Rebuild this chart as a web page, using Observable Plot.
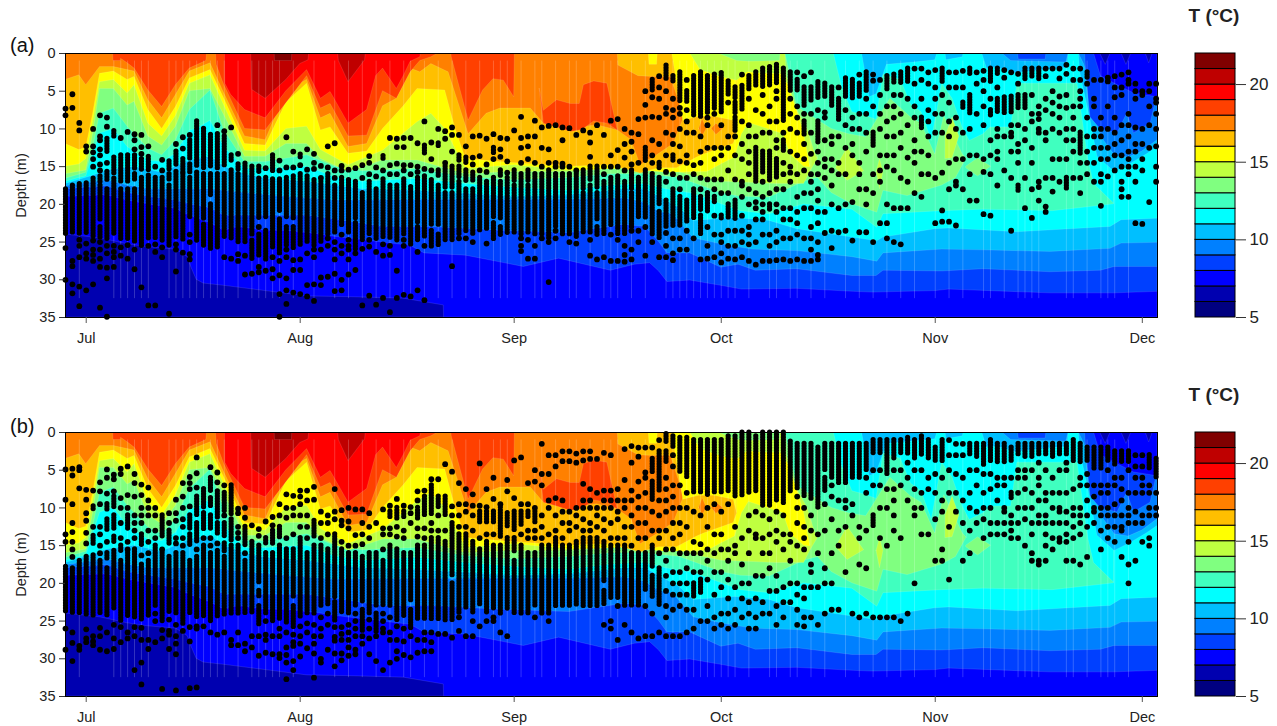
<!DOCTYPE html>
<html><head><meta charset="utf-8">
<script src="https://cdn.jsdelivr.net/npm/d3@7"></script>
<script src="https://cdn.jsdelivr.net/npm/@observablehq/plot@0.6"></script>
<style>
html,body{margin:0;padding:0;background:#fff;font-family:"Liberation Sans",Arial,sans-serif}
#page{position:relative;width:1277px;height:726px;overflow:hidden}
#page svg{position:absolute;background:transparent;overflow:visible}
.lab{position:absolute;font-size:20px;color:#111;line-height:20px}
.tt{position:absolute;font-size:19px;font-weight:bold;color:#222;line-height:18px;width:100px;text-align:center}
</style></head><body><div id="page">
<div class="lab" style="left:10px;top:35px">(a)</div>
<div class="lab" style="left:10px;top:416px">(b)</div>
<div class="tt" style="left:1164px;top:7px">T (°C)</div>
<div class="tt" style="left:1164px;top:386px">T (°C)</div>
</div>
<script>
const bandColors=["#000080","#0000B0","#0000FF","#0040FF","#0080FF","#00BFFF","#00FFFF","#40FFBF","#80FF80","#BFFF40","#FFFF00","#FFBF00","#FF8000","#FF4000","#FF0000","#BF0000","#800000"];
const legendBands=[5,6,7,8,9,10,11,12,13,14,15,16,17,18,19,20,21];
const months=[0,31,62,92,123,153];
const depthTicks=[0,5,10,15,20,25,30,35];
const legendTicks=[5,10,15,20];

// isotherm depth (m) per day after 1 Jul: [day, depth]; band T..T+1 lies above isoT
const iso6=[[-3,35],[155.2,35]];
const iso7=[[-3,24],[2,24.5],[6,25.3],[9,25.7],[13,26],[14.7,27],[15.3,28.5],[16,30],[17,30.5],[20,30.8],[26,31.5],[32,32.2],[38,32.3],[46,32.5],[51.8,33.4],[51.85,35],[155.2,35]];
const iso8=[[-3,19],[3,18.8],[6,19.5],[9,20],[13,20.6],[15,21.5],[18,22.5],[20,23.5],[22,23],[26,23.5],[29,23.5],[34,24],[36,24.3],[47,25.5],[49,26.5],[55,26.8],[63.4,28.3],[68.5,27.2],[76,28.8],[79.5,28],[81.7,27.8],[83,28.9],[84.2,30.3],[87.5,30.1],[92,30.8],[95,31.3],[103,31.2],[111.2,31.6],[114,31.7],[123,31.5],[125,31.3],[139.7,31.8],[149,31.8],[155.2,31.6]];
const iso9=[[-3,18],[3,17.6],[6,18.5],[9,19],[13,19.5],[15,20],[18,20.5],[20,21.5],[32,21.5],[36,22],[43,23],[50,23],[60,23.5],[70,23.8],[78,22.7],[81,23],[83,25],[84.2,26.5],[87.5,26.5],[92,28.4],[94.5,28],[97,28.8],[103,28.6],[111,29.5],[114.5,29.5],[115.5,28.8],[124,28.9],[130,28.6],[139.7,29],[147,28.8],[149,28.3],[155.2,28.3]];
const iso10=[[-3,17.6],[3,16.8],[6,17.5],[9,18],[18,18],[23,18.5],[29,19],[36,19.5],[50,19.4],[70,19.4],[78,19.2],[81,19.8],[83,21],[85,21.3],[88,24.5],[92,25.3],[96.5,26],[103,26.2],[111,27],[114.6,27.6],[115.5,26.5],[124,26],[130,26.1],[139.7,26.3],[148.4,25.9],[150,25.2],[155.2,25.1]];
const iso11=[[-3,17.3],[1,16.2],[3,15.5],[7,15],[11,15.8],[15,14.2],[18,13.7],[20,15],[23,16],[26,16.6],[32,17],[40,18],[48,18.2],[55,18.6],[62,19],[70,18.8],[78,18],[81,18],[83,19],[86,20.5],[88,22.2],[94,21.8],[99,22.2],[103,23.3],[111,24.4],[114.6,24.9],[115.5,24.4],[123,23.3],[125,23.2],[134.9,23.7],[148.4,23],[150,22.1],[155.2,21.9]];
const iso12=[[-3,17],[-1,16.5],[0,16.3],[1,13.5],[2,10.6],[4,10],[6,12.4],[9,14.2],[11,14.4],[13,13.3],[15,10.2],[16,10],[18,8.9],[20,12.4],[23,15.3],[26,15.3],[32,15],[36,16.4],[40,17],[48,16.6],[55,17.3],[62,17.8],[70,18.2],[76,17.5],[81,17.3],[84,18],[88,18.6],[94.8,20.9],[99,21.3],[104,20],[111,20.7],[114.6,23.1],[115.5,21.3],[124,20.9],[130,20.7],[140,20.9],[148.9,20],[149,0],[155.2,0]];
const iso13=[[-3,16.6],[0,15.8],[1,12.5],[2,8],[4,7.3],[6,9.7],[9,12.6],[11,13.5],[13,11.5],[15,7.5],[18,4.9],[20,10.2],[23,14.4],[26,14.4],[32,13.5],[36,15],[40,15.6],[48,15.3],[55,16.4],[62,16.8],[70,16.5],[76,16],[81,16],[86,16.5],[92,18.5],[94.8,19],[99,19.1],[104,17],[106,16.5],[108,18.5],[111,20],[114.6,21.1],[115.5,18.2],[119,18.9],[124,17.5],[126,16.5],[127.5,14],[127.6,0],[155.2,0]];
const iso14=[[-3,16],[0,15.5],[1,10.6],[2,4.7],[4,4.7],[6,6.9],[7,6.4],[9,11],[11,12.2],[13,9.7],[15,5],[18,4.7],[20,8.2],[23,13.7],[26,13.7],[29,12],[32,12],[34,14],[38,15.7],[43,14.2],[48,14.2],[55,16],[62,15.7],[70,15.7],[78,15.2],[86,15.8],[92,17],[100,17.3],[104,17.3],[105,15.5],[106,14],[106.1,0],[155.2,0]];
const iso15=[[-3,15],[-1,14.7],[0,14],[1,9],[2,3.8],[4,3.5],[6,5.3],[7,4.2],[9,9.3],[11,11],[13,8.3],[15,4],[18,2.9],[20,6.9],[23,12.9],[26,13],[29,10],[32,9.7],[34,12.8],[38,14.8],[43,12.9],[48,9.1],[50,8],[52,10],[55,15.3],[62,14.8],[70,15.5],[78,15.3],[84,15.8],[90,15.7],[92,14.7],[94,13.8],[95,10.7],[96,9.2],[101,10.7],[102,13.4],[104,15],[104.9,15.1],[104.95,0],[155.2,0]];
const iso16=[[-3,12],[-1,12.8],[0,12.5],[1,8],[2,2.7],[4,2.4],[6,3.5],[7,3.1],[9,7.5],[11,10],[13,7.1],[15,3.3],[18,2.2],[20,6],[23,12],[26,12.2],[29,6.5],[32,4],[34,10.2],[35.4,9.8],[38,13.3],[40.7,13],[43,10],[46,7],[48,4.7],[52,4.9],[53.5,10],[55,14],[60,14.4],[70,15],[76,14.8],[80.3,15.9],[83,15.2],[85.6,15.2],[88.5,13.8],[89.5,13.4],[93.8,12],[94.3,10.7],[94.4,0],[155.2,0]];
const iso17=[[-3,3.5],[-1,2.9],[0,4.2],[1,3],[2,1.8],[4,1.8],[6,2.2],[7,2.4],[9,6.2],[11,8.6],[13,5.5],[15,2.4],[18,1.3],[20,5.3],[23,11],[26,11.5],[29,5],[32,3.5],[34,8.6],[35.4,8],[38,12.4],[40.7,12],[43,7],[45,6],[47,2],[48.4,2.5],[50,1.4],[52.5,2.5],[55.4,10.7],[58,8],[60,7.3],[64.4,7.3],[66.3,9.3],[70,10],[74,9.5],[77,10.2],[79,11.5],[80.3,14.8],[82.7,13.5],[85.1,12],[86.6,8.5],[86.7,0],[155.2,0]];
const iso18=[[-3,0],[3.9,0],[3.95,1],[5,1],[5.05,0.7],[6,1.3],[7,2],[9,4.9],[11,7.1],[13,4.2],[15,2],[17.4,1],[17.5,0],[18.8,0],[18.9,1.5],[20,4.2],[23,10],[26,10.2],[29,6.6],[32,3],[34,7.3],[35.4,6.7],[38,11],[40.7,10.9],[43,5],[45,6],[47,2.5],[48.4,1],[50,0.5],[51,0],[52.9,0],[52.95,0.5],[55.4,8.9],[57.5,4.9],[59,3.4],[60.5,3.6],[62,5.8],[62.1,0],[155.2,0]];
const iso19=[[20.1,0],[20.15,4],[21,5.5],[23,7.5],[26,8.6],[29,5],[32,2.2],[34,6],[35.4,5.1],[38,9.3],[40.7,7.5],[42,3],[43,2],[45,4.7],[46,3],[47,1.1],[48.4,0.5],[48.5,0]];
const iso20=[[23.9,0],[24,4.8],[26,6],[29,3.5],[31,1.4],[32.2,0.9],[32.3,0],[36.5,0],[36.6,1],[38,3.8],[40.4,0.9],[40.5,0]];
const iso21=[[27.3,0],[27.35,1],[29.8,1],[29.85,0]];

// cold layers over the warm core: capT = depth of T below the surface; colder water above it
const cap17=[[77,0],[77.1,1.6],[80,3],[82,3.1],[84.7,3.1],[85.6,5.6],[86.6,8.5],[86.65,0]];
const cap16=[[81.5,0],[81.6,1.5],[82.7,1.5],[82.8,0],[84.9,0],[85.6,4],[86.5,8.9],[88.8,8.4],[91,8.4],[93.8,8.9],[94.3,10.7],[94.31,0]];
const cap15=[[87.5,0],[89,2.2],[91.9,3.1],[94.3,3.6],[95.8,2.5],[98.7,2.7],[100.6,2.7],[101.6,4],[103,7.6],[104,10.6],[104.9,15],[104.95,0]];
const cap14=[[91.6,0],[94.3,1],[96,1.1],[100.5,1],[100.6,0],[101.3,0],[101.5,3],[103,7.5],[104.5,10],[105.5,13],[106,14],[106.05,0]];
const cap13=[[101.3,0],[103,7.1],[108,10],[110.5,10.7],[113,11.1],[116.5,6],[119.5,8.5],[121,9.3],[123,13.4],[124.3,8.3],[127,13.4],[127.6,14],[127.65,0]];
const cap12=[[108.3,0],[109.5,4.5],[111,7.8],[113,8.3],[114.5,8.8],[115.5,2.8],[118,3.5],[119.5,6.8],[121,7.8],[122.5,11.6],[124,4],[125.5,6],[127,9.9],[128,11.6],[130,10.7],[131,9.8],[134,9.8],[134.9,4],[143.6,4],[145.2,14.2],[146,17.3],[148.9,19.9],[149,0]];
const cap11=[[112.4,0],[113.5,5.8],[114.5,5.4],[116,1.5],[120,1.2],[123,0.9],[123.3,0],[124.5,0],[124.6,0.9],[127,0.5],[127.1,0],[129.8,0],[130.5,2],[132,1.9],[134.5,2.6],[142.2,1.9],[142.3,0],[143.8,0],[144,2.5],[145.5,8.9],[146.5,13.7],[149,15.7],[151.4,14.6],[153.8,13.3],[155.2,12.4]];
const cap10=[[132.7,0],[134,1],[142,1.2],[142.3,0],[143.8,0],[144.6,1.5],[146,6],[147,11],[149,13.5],[151,13.8],[153,13],[155.2,11.5]];
const cap9=[[135,0],[135.1,0.8],[139,0.8],[139.1,0],[144.7,0],[145,4],[145.5,8.5],[146.9,10],[149.4,10.6],[150.8,8],[151.8,10.6],[154.2,9.3],[155.2,5.3]];
const cap8=[[146,0],[147,3],[149,4],[151.8,5.3],[155.2,5.8]];
const cap7=[[146.9,0],[147.7,1.5],[148.4,0],[150,0],[150.7,1.5],[151.4,0],[153.5,0],[154,1.3],[154.5,0]];

// closed warm lenses: [day, top depth, bottom depth]
const lens18=[[65.7,4.7,4.7],[66.3,7.6,9.3],[68.2,6.2,9.8],[70.2,6.7,10.4],[71.5,6.7,10.2],[72.1,4.2,10],[73.6,3.7,9],[75.5,4,9.3],[77,10.2,10.2]];
const lens17a=[[88.8,10,10],[89.3,8.7,11],[89.9,10,10]];
const lens17b=[[90.6,10,10],[91.3,9.3,10.8],[92.3,10,10]];
const lens14a=[[108.6,15.2,15.2],[110.3,12.5,16.9],[112.7,15.6,15.6]];
const lens14b=[[114.5,15.7,15.7],[115,14,18],[115.5,15.7,15.7]];
const lens14c=[[124.5,11,14],[125.5,8.5,13.9],[126.5,11,11]];
const lens13=[[127.5,15,15.2],[129.2,13.9,16.3],[131.1,15,15]];

const seamDays=[-1,4,5,6,7,8,9,12,13,14,15,16,17,18,19,20,22,24,25,26,27,28,30,33,36,38,40,42,44,46,47,49,51,53,55,57,59,60,61,63,65,66,68,70,71,73,75,76,77,79,81,84,85,86,87,88,89,90,91,92,93,94,96,99,100,102,103,105,107,110,112,114,116,118,120,123,125,127,130,131,133,135,136,137,138,142,143,145,147,148,149,151];

// observation depths per day, starting at day -3; "a-b" = continuous run of depths
const divesA=[
"7.3 8.2 18-24 25.8 30","5.4 7.2 17.5-23.8 27.5 28.2 30.6 31.8","9.2 10.2 17.3-24 24.7 25.5 27 30.9 33.5","12.3 13 17.2-24 25.2 26.5 27.2 31.4","10 12.3 13.1 14 15 16.6-24.3 24.8 26 26.7 27.5 30.6","8.2 11 11.5 12.7 13.5 14.7 15.5 16.3-17 17.5-22 23-24.5 25 26 27.2 28.3 33.7","8.5 9.7 11.3-13.2 14.5 15.7-17 18-24.7 25.5 26.5 28.4 29.8 34.9","10.3-11.3 13.8-16 16.6-24 25.5 26.3 27 28.3","11.2 13.5-17 18-24.8 25.7 26.8","10.4 13.5-17 18-24.8 25.4 27.2","10.7 11.5 12.7 13.5-15.5 16-17 18-25 26 28.6","10.8 12.4 13.3 14-15.5 16.5-25.5 31","12.3 13.7-15.5 16.2-24.7 25.5 33.4","15 16.5-24.6 25.3 26.3 33.4","14.1 15.5 16.5-25 25.7 27","14.3-15.4 16-17 17.5-25.8 34.5","12 13-15 15.7-24.6 25.3 26 28.9","11.1 12.6 14-15.8 16-24.8 26.4","10.8 11.5-14 14.7-15.8 16.5-22 24 25 26.6 27.3","9-15 15.8-24.8","10-15.5 16-22 22.7-25.5","10.8-15 16-19 20-25.9","9.5 10.7-15.5 16-25.8","10.3 11-15 16-24.5 27","9.8 13.5-14.5 15.5-24.8 27.2","13.3 14.7-15.5 16-25 26.6 27.5","14.6-15.8 16-25 26.8 29.3","15-24 24.8-27.5 29.2","15-16 16.6-22 23 24-27 28.3 29","15.2 16.5-22 23.5-27.5 28.8","13.5-15.8 16.7-26 27 28.6 29.8","14.2 15.5 16.7-21 22-26.5 27.5 29.4 31.9 34.9","11.1 15.1 16.5-22 23-25.5 26 27 29.8 31.4 33.2","13 15.1 16.3-22 23-25.8 27.4 28.7 31.7","13.4-14 14.8 16-25.6 27.3 28.7 31.9","12.7 15.4 16.3-25 26.5 30.7 32.2","13.3 14.5 15.3 16.8-25.5 26 27 30.6 32.8","14.9 16.5 17-25 26 29.7 30.7","12.3 15.1 16-24 24.5 25.5 29.6",
"11.9 15.5 16.5 17.5-24 25 26 27.3 29.2 31.5","14.9 15.5 16.5-23 24 25.5 26.5 30 31.4","15.4 16.8-24 24.7 25.5 26 27.3 29.3","15.2 17-22 22.5-26 26.5 28.7","14.8 16.5 18.5-25 25.9 33.4","13.6 14.5 16 17-24 24.7 25.6 32.1","15.1 16.3 18-24.6 26.3 33.3","13.6-14.2 15.5 16.7-24.5 25.3 26.8 32.4","11.2 14.8 16 17.5-24.6 25.5 26.7 34.3","11.3 12.4 14.6 16 17.5-25 28.8 32.4","11.2 12.4 14.8 15.5 16.7-24 24.7 25.5 32","11.2 14.8 16 17.7-25.5 32.2","11.9 15 15.7 16.5-22.5 23-25 26.3 31.4","9 12.2-13.5 15.3 16.3-24.5 25.5 32.7","11.8 14 15.5 16.8-23 23.5-25.6","10 11.9-12.5 15.5-16.5 17.5-23 24-25.5","10.3 11.3 14.5 15-18 18.5-25","9.8 10.8 13 15-18 18.5-25 28.2","10.8 13.5-14.5 15-16.5 17-24 24.5","12.3 13.8-14.5 15.5-17 18-23.7 24.5","11 13.8 14.7 15.8-17 18-24 25","10.9 13.6 15.5 16.5-23.5","11.3 14.7 15.7 17-23.5 25.2","10.7 12.5-13.5 14 16.5-22 22.5-24.7","11.2 12.7 13.7 15.5-16.5 17-22 23-24.3","11.3 14.3 15.8 16.5-24","10.2 15.5-17 17.5-24","8.4 11.2 12.5 14.5 16-24 24.5 25.5 26.2","11 12.3 14 15.5-17 17.5-24 24.7 27.2","8.9 11 14.5 16-24 25.5 27.2","9.8 12.5 15 16-24 24.5","9.6 12.7 14.5 15.5-24.5 25 30.3","9.5 14.5 15 16-23 23.5 24.5","9.8 11.5 14.6 15 16-24","9.9 15 16-24 25","10.8 15.5 16-24.5 25.2","10.2 15.5-18 18.5-24","10.5 11.8 13.7 15-17 17.5-24 24.7 26.8","9.5 15-18 18.5-22 23-24.3 27.3","10.8 15 16 17-24 27","8.9 13.5 15 16.5-23 24 27.5","8.7 12.8 15 16.3-24 24.7 27.5","10 12 13.8 15.5 17-24 25.5 26.7 27.6","10.5 11.7 13 14.7 15.5-18 18.5-23 23.5 26 27.3","8.7 10.7 14.5 16.5-22 23.5 25","5 6.8 8.5 12.5-14.5 15.5-22 23 26.8","3.5-5 5.8 8.4 11.5 13.5 14.5 16-24 25","3 4.5 6 8.5 12 14.5-15.5 16.5-20 21-24.5 27",
"1.6-3.5 5 7.2 8 10.5 13.5 15.7 17 19.5-23 23.8 25.5 27","3-4 6 7.5 8.5 10.8 12 13.5-14.5 16 18-23 24.5 26.5 27.4","2.5-6.5 7.2 8 10 12.3 14.3 16.5 18 19-23 24.5 26","3.5 5-6.5 7.5 9 10.5 13.5 14.5 16.5 19.5-22.5 23.5 26","3-8.5 10.5 14.8 16 18-22 24.5","2.5-8.5 11 13 14.5 16.5 18 19-21 21.5-24 27.3","3-8 8.5 9.5 12.5 16.7 18.5-21 23 25.5 27.2","2.8-7.5 8 12.5 14 16.7 18 19-20 21.5 24 27","2.6-7.8 9.5 12.5 13.5 16.7 18.5 21.5-22 24 25 26.5 27.7","3.7-5.5 6.5 11 12.5 15.5 18.5 20-22 23.5 25.5 27.2","4.5-6 6.5-8 8.5-10.5 11 13.5 16.7 19.5-22 23.5 25.5 27.3","2.8 4.3-7.5 9 12 14 17 17.5 19 21.5 23.5 25 27","3-5 6 9.5 11 13 14.5 16 18 20 23 24 25.3 27.5","2.5-4.5 7.5 11 12.5-17 18.5 19.7 20.5 22 25 28","2-4.5 5.5 8 10.5 13-16 17 19 20 21 22 24 27.5","1.8-4.5 7 9 10.5 13-17 18.5 20-21 24 25.5 27.5","1.5-4 5 6 9 11.5 12.5 14-16.5 18 20 21 23.5 25 27.4","2-9 10.5 11.5-13 14.5 16 18 20.5 22 24.5 27.3","2.5-5 6 8 10 13 15 15.8 17 20.5 22 24.5 27.5","2.5 3.5-5 7 8.5 10.5 13.5 16 19 21 22.5 24 27.3","3 4.5-7 8 9-11 12 14 15.5 18.5 20.5 24.5 27.5","2.5 4.5-6.5 8 10.5 13.3 16 17 18.5 20.5 23 24.5 26 27.5","3.8-6 7.5 9-12 13 14.5 16 18 19.5 21 22.5 25 26.7 27.3","4-6 7.8 8.5 11.5 14 15 16.5 21 23.8","4.5-7 11 12 14 15.5 17.5 20 23.5 25.8","4.5 6-9 11 14.5 16 20.5 23.7","3.3-6 7.5 9.5 12.5 16 20 23.5","3.5-6 8.5 10 12 13.5 19.7 24.8","2.8 4-6 8 10 14.5 16 18 23.7","2.5-5 6 8 10.5 13 18 20 23.7","2.8 3.6 7 10.5-12.5 16 18.5 25","3.5 5.5 8 10 13.5 15.5 17 22.5","3-5 7 9 11 13.5 15 20 22.5 24.5","2.8-4 5.5 7 8.5 11 13.5 15.5 20.5 25","2.5-4 5.5 8 10.5 12.5 16.5 20.5 25.3","2-4 6 9.5 13.8 17 20.5","2 4 7 8.5 11.5 13 14.5 18.5","2 3.5 6 8.5-10 13 16 19","2.5 4 7.5 9 11 13.5 16","2.2 4.5 6 8 10.5 16.5 22.5","2-4 5.5 8 10.5 15.8 20.8 22.3","2.5 4.5 6.5 9 11 14.5 18 22.3","2.5 4.5 8.5 10 14 17 17.5 22.8","2.3 4.5 6.5-7.5 10.5 14 18",
"2-3 5.5-8 10 13.5 16 19.5","2.5 4 8 13.5 19.5","2.3 3.5 5 7 9.5 14 15.7 21.3","2-4 6 7.5-8.5 11.5 13.5 16 21.5","2-3 4.5 6-8 10 11 13 14 17.5","2.2 3.2 5.8-8 11 15.5","2.5 5.7-8 9.5 10.5 11 13 16.5 23.5","2.7 4 5.5-7.5 9.5 12 13 14.5 17.5-18.5","2-3.5 5.5-7.3 10 11.5 16.5 20.5","2-3.2 5.5 8 9 12.5 14.5 18 21.8","2-3.5 7 8 8.7 10 10.5 17 17.7 19.5","2 3 6 7.5 10.5 11.5 16.5 20.3 21","2 5 6.5 8 10 14 16.5 18.3","2 3.3 5.7 7 8.5 10.5 14 17","1.5 2.7 5.5 7.2 10 11.5 14 16.5-18","2 3.5 7 8.5 10 11.5 13 16.5","2 3.5 5 6 7 10.5-13.5 14.5 16.5 18.5","2.5-3.5 4 8.5 11 13 14.5 16","3.5 6 7 10 11 12.5 14.5 17","3.5 8.5 10 11 12.5 14 16 17 20.2","3.2 3.7 7 10 12.5 14 16.3","3 4.5 5.8 8.5 10.5 12 13.5 15.5","2.8 4.5 5.5 9.5 11.5 13.5 15 17 18 19","2.5 3.5 4 8 9.5 11 13 14 15 16 19","4 5 6 9.8 12 13 15 17 22.5","5 5.5 10 12 14 15.5 22.6","4 5 7 9.5 12.5 19.7","4 6 6.5 8 10 12.3 15 17"];
const divesB=[
"4.9 8.9 13.5 14.5 17.8-24 26 28.8","4.8 5.7 9.5 12 13.2 14.5 15.5 16.5 18-24 26.5 27.9 30.3","4.6 5 7.4 17-24 28.3 28.8","7.6 8.9 10.7 11.7 13.3 14.7 16.5-24.3 26.1 27.3 27.8","7.7 9.8-10.3 12.5 13.7-15 16.3-24.3 27 27.7 28.2","6.6 7.8 9.5 12.5 13.5 15 16 17-24 25.9 27 28.8","4.9 6 8.1 9.5-10.3 11.5-13 14.5 16-17 18-24.5 26.5 29","5.6 6.2 7.8 8.5-10 11-13 13.8-14.5 15.7-23.5 25.5 27.3 28.7","4.8 5.5 8.7 10 12 14 15-16 17-25 25.8 27.8","4.5 8.3 10 11-13 14.5 15.5 16-24.6 26.5 27.3","5.5 6.7 8.5 11 12 13 14 15.5-24.5 25.8 27 31.5","6.9 8.3 10 11 12 13.5-15 16.3 17.5-25 25.9 27.5 30.5 33.4","7.3 9 10 11 13 14.5 16 17-24.3 27.5 28.7","10 11 13 14 15-23 24 25 27.8","11-14 15.5 16-25 26.2 27.3 34","10.7 12 13-15 16.5-24 24.8 26.3 26.8 28.7","8.9 10.7 11.7 14 14.7 16-24 25.5 27 28 29.4 34.2","6.7 8.5 10 11.5 12.5 14 15 16-25.5 26.3","5.9 6.7 7.5 9.8 11-13 13.5-15 17-24 25.8 27.7 33.9","3.3 5.4 7.3 8.5-11 12-14.5 15.5 16.5-24.5 25.7 26 33.8","7.5-10 10.7-13 14 15-24.5 25.7","4.6 6-8 8.7-10 11-13 14 15 16-25 26.5","5.3 6.6 7.8-11.5 12-13.5 14.7 15.7-24.5 26.8","7 8-10.5 11 12-14 14.7-16 16.5-24.3 26.5","7-11 11.5-14.5 15-24 27.5 28.2","10.1 10.7 12.5 13.3 14 15-24 26.5 28.2","10 11.3 12.5-15 16 17-24 28 29","12.3 14.5-24 27 28.5","12.8 13.7 15-20 21-22 23-25.5 27 29.6","11.8 14-15 16-24 25 26.8 27.5 29.2","11.2 12.3 13-15 16-25 27 29.4","9.5 11 12.5-14 15-25 26 27 29.4 29.9","8.2 10 11.3 14 15.5-25.5 26.5 28.5 29.5 30.5 32.7","8.4 10 11 13.5 15.5-22 23-25.8 26.8 27.8 28.3 30.3 31.5","7.7 8.5 9.5 11 12.5 14-24.5 25.7 27 28 29.7","7.7 9 11 12.5 14 16-24 25.3 26.5 28.6","7.2 8.9 11.7-14 15-24.3 25.5 27 28 29.3 32.5","10.5 12 14 15-23 24.5 26 27 30 30.5","11 12 13.5 15.5-23 24 25.5 28.8",
"7.5 10.5 11.5 13.5-22 22.5-25 25.8 27.1 27.6 29.3 31","10.3 11.7 12.3 14.5 15.5-24 25.8 26.7 27.5 29.3 30.2","10 11.8 12.7 15 16-24 25.5 26.5 27.5 28.5 29.6","10.2 13.6 15 16-23 24 25 26 27 28.8 29.4","10.2 12 13.5 14.8 16.5-22.5 23.5-26.5 27 28","10.7 12.5 14 16-24 24.8 26 27.3 29.4","12 16-23 24-26.5 27 30.3","10.2 12.7 13.5 15.5 17-23 24 25 26 26.5 31.5","9.7 10.5-11.5 12.7 13.5 15-23 24.5 26.5 27.5 30.5","8.8 10-11.5 12.5 13.8 15.5-25 25.7 27.5 29 30","9.7 10.5-11.5 13 14 16-24.5 26 27.7 29.5","9.9 10.7 12 16-22.5 23.5-26 27 29.8","7.8 9 10-11.5 12.7 13.8 15-25 27.5 29.2","7.7 8.5-11 12.7 14 15-25 26.5 27.5 29","6.2 7-11 12 13 14-25 26.5 27.8 29","6.2 8.5-10 11 13 14-25 26.7","4.2 8.5-11 13 14.5-25 26.7","5.2 9.8 11 12-19 20-25 27.2","6.7 9.5 11 12.5 13.5-24 24.5 26.3","7.5 9.5 10.5 12.5 13.5-23.5 27","8.2 9.7 11 13 14.5-24 25 27","4.1 9.7 10.5-12 14 15.5-23 25.7","7.5 9.9 10.5-12 13.5 14.5-24 25","6 8.8 10.5-12 13.5 15-23.5 24.5 25","9.5 10-14 15-24 26.5","6.3 7.8 10.7-12.5 14-23.5 27","3.7 8.7 10.5-13 14-16 17-24","3.3 9.5 10.5-12.5 13.5 15-24","6.7 9.5 10.5-11.5 13 14 16-24","5 6.5 10 10.5-12 13 14 16-23 24.5","1.5 5.5 7 11 12.5 14 15-24","3 5.5 9 10 13.5 15-24 25","3 4.5 8.7 11 13 14-23","2.5 3.8 9 10.5 12 14 15-23","2.5 3.8 10.5 12 13 15-23","2.8 4 10 11 12.5 14.5-23","2.5 3.7 6.8 9 10 11.5 13 14-23","2.5 3.5 7.5 9 10 12 13 14-23","3.5 8 10 11 12.5 14-23","2.7 7.7 9 10 11.5 13 14.5-20 21-23 25.5","3 7.7 9 10 12 14 15-22 25 26","7.5 9 10.5 11.5 14 15-22 23 27.5","2.2 6.3 9 10 12.5 14 15-23 25.5","1.8 4 7.7 9 11 12.5 15 16-23 26.5","2 3.2 6.5 8.5 10 12 14 16-23 27.3","2 5.3 6 8 10 12 14 16-21 23 27","2 3.5-5.5 6.5-9 10.5 13 15-18 19-22 24 27","1 2.5-8 9 11 13 14 16 18-23 26.5",
"0.2-1.5 2.5-4 6 7.5 9 10.5 13 15.5 17 19 21 23 24.5 27","0.5-2 3 4.5 7 8.5 10 12 14 15.5 18.5 20 21.5 23.5 27","0.7-5.5 7 10 12 13.5 16 18.5 20 21.5 23 27","0.7-6 8 10 12.5 16 18 20 21.5 23.5 26.5","1-8 10.5 14.5 16 18.5 20-22 23.5 26","1-8 11 14.8 16 18.5 19.5-21.5 25","1-8.5 10 12.5 15.5 17 19.5 23 25","1-8 9.5 13.5 16 18.5 21.5 24.5 26","1-8 10.5 13.5 15.5 18.5 20.5 24 25.5","0.5-8 9.5 15.5 17 19.5 22 24 26","0.5-8.5 12.5 15 16 20.5 23.5 25.5","0-8.5 14 17.5 20 22 24.5","0-8 11 13 16 20 22.5 24 26","0.5-8 10.5 13.5 14 19 22 24.5 26","0-10 11 14 16 19 22.5 24","0-10 11.5 13.5 16 18 21 24","0-9 10.5 13 14.5 19 21 23 25.5","0-9.5 11 13.5 15.5 20.5 22.5 24.5","1.2-8 13.5 14.5 17 20 22.5","1.5-7.5 8.5 10 12 15 20 21.5 23.5 25.5","1.5-8.5 10 12.5 14 15.5 20.5 22 24.5 25.7","1.5-9 11 13 17.5 18.5 20.5 24.5","2-10 13.5 16 20.5 25.5","1.5-5 6-8 9.5 13 18 20 24","1.5-6 7 8.5 11.5 16 20 23.5","1.5-7 9 13 15 23.5","1.5-7 9 10 12.5 18.5","1.5-6 9.5 11 24","1.5-6 12.5 14 17.5 24.5","1.5-5 6 8 13 18 24","1-3 5 7 11-12.5 24.5","1-3 5 7 10 14 24.5","1-5.5 7.5 10 15 24.5","1-3.5 5 7.5 9 11 13 24.5","1-3 5 7 14 25","0.7-3 4 6 9 24","1-3.5 5 7.5 10 11 20","0.5-3 5 8 10 13.5","1-3.5 6 7.5 13.5","2-4 5.5 8 11.5 17","1-4 6 9 10.5 15.5 17","1 3 5 8 12.5 19.5","1.5 3 5.5 8 10.5","1.5 3 6 9 12 17",
"1.5-3 5 8 10 13 16","1.5-3.5 5 7 10.5 12","1.5-4.5 5.5 8 10 11.5 14","1-4 5.5 7.5 10 12 13.5","1.5-4 6 7 9 12 13.5","1.5-4 6 7 10 10.5 12 13.5","2-4 6 8-9 11 12 13 14","1.5-3 5 6 8 10 12 14","1.5-3.5 5 6 7.5 10 11.5 15","1.5-3.5 5 8 10 12 13.5 16 17","1.5-3 4 6 7 9 11 12 17 17.5","1.5-3 5 8 9 11 12 13.5 15 17","1.5-3.5 6 8 10 12 14 15.5","1.5-3 5 8 10 10.5 12 14 14.5","1.5-3 4 5 8 10.5 12 13.5 14.5 17","1-4 7.5 10 11 12.5 14 17","1.5-4 6 7 10 11 12 13.5 17.5","2-4 5.5 7 9 11 12.5 16.5","2-5 7 8.5 10 10.5 12","2-5 7 8 10 11 13 15.5","2-4 5 7 8 10 11 12.5 14","2.5-4.5 6 7 9.5 11 12.5 14.5","2.5-4 6 7.5 9 11 12.5 13 16.5","2.5-4 5 8 10 11 12 14.5 17.5 20","3 4.5 6 8 10.5 12 17","3 4.5 6 7 8 11 12 14.5","3-5 7 8 10 11 14 15","3.5-6 8 10 11"];

const toDate=d=>new Date(Date.UTC(2010,6,1)+d*864e5);
const threshold=legendBands.slice(1);
const color={type:"threshold",domain:threshold,range:bandColors};
const font={fontFamily:"Liberation Sans",fontSize:"14.5px",color:"#222",background:"transparent"};

const isoLayers=[[6,iso6],[7,iso7],[8,iso8],[9,iso9],[10,iso10],[11,iso11],[12,iso12],[13,iso13],[14,iso14],[15,iso15],[16,iso16],[17,iso17],[18,iso18],[19,iso19],[20,iso20],[21,iso21]];
const capLayers=[[16,cap17],[15,cap16],[14,cap15],[13,cap14],[12,cap13],[11,cap12],[10,cap11],[9,cap10],[8,cap9],[7,cap8],[6,cap7]];
const lensLayers=[[18,lens18],[17,lens17a],[17,lens17b],[14,lens14a],[14,lens14b],[14,lens14c],[13,lens13]];
const areaOpts={x:"date",y1:"top",y2:"bot",fill:"T",curve:"linear",stroke:"#fff",strokeOpacity:0.16,strokeWidth:0.7};
const fieldMarks=[
  ...isoLayers.concat(capLayers).map(([T,pts])=>Plot.areaY(pts.map(p=>({date:toDate(p[0]),top:0,bot:p[1],T:T+.5})),areaOpts)),
  ...lensLayers.map(([T,pts])=>Plot.areaY(pts.map(p=>({date:toDate(p[0]),top:p[1],bot:p[2],T:T+.5})),areaOpts)),
  Plot.ruleX(seamDays.map(toDate),{y1:1,y2:32.5,stroke:"#fff",strokeOpacity:0.2,strokeWidth:1})
];

function parseDives(list){
  const runs=[],dots=[];
  list.forEach((s,i)=>{
    const date=toDate(i-3);
    s.split(" ").forEach(tok=>{
      if(tok.includes("-")){const [a,b]=tok.split("-").map(Number);runs.push({date,a,b});}
      else dots.push({date,y:+tok});
    });
  });
  return {runs,dots};
}

function panel(list,top){
  const {runs,dots}=parseDives(list);
  const svg=Plot.plot({
    width:1170,height:347,marginLeft:65,marginRight:13,marginTop:53,marginBottom:30,
    style:font,color,
    x:{type:"utc",domain:[toDate(-3),toDate(155.2)],label:null},
    y:{domain:[35,0],label:null},
    marks:[
      ...fieldMarks,
      Plot.ruleX(runs,{x:"date",y1:"a",y2:"b",stroke:"black",strokeWidth:5.2,strokeLinecap:"round",strokeDasharray:"0.01 2.6"}),
      Plot.dot(dots,{x:"date",y:"y",r:2.9,fill:"black"}),
      Plot.frame({stroke:"black",strokeWidth:1}),
      Plot.axisX({ticks:months.map(toDate),tickFormat:d3.utcFormat("%b"),tickSize:6,tickPadding:9,stroke:"#555",label:null,fontSize:14.5}),
      Plot.axisY({ticks:depthTicks,tickSize:6,tickPadding:4,stroke:"#333",label:"Depth (m)",labelAnchor:"center",labelArrow:"none",labelOffset:50,fontSize:14.5})
    ]
  });
  svg.style.left="0px";svg.style.top=top+"px";
  document.getElementById("page").appendChild(svg);
}

function legend(top){
  const svg=Plot.plot({
    width:97,height:347,marginLeft:15,marginRight:42,marginTop:53,marginBottom:30,
    style:font,color,
    x:{domain:[0,1],axis:null},
    y:{domain:[5,22],label:null},
    marks:[
      Plot.rect(legendBands,{x1:0,x2:1,y1:d=>d,y2:d=>d+1,fill:d=>d+.5,stroke:"black",strokeWidth:1}),
      Plot.axisY({anchor:"right",ticks:legendTicks,tickSize:10,tickPadding:4,stroke:"#333",label:null,fontSize:17})
    ]
  });
  svg.style.left="1180px";svg.style.top=top+"px";
  document.getElementById("page").appendChild(svg);
}

panel(divesA,0);legend(0);
panel(divesB,379);legend(379);
</script></body></html>
